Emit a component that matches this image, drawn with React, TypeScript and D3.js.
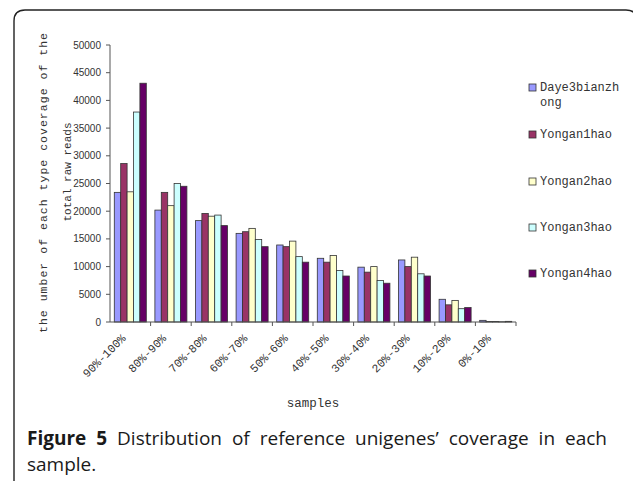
import React, { useLayoutEffect, useRef, useState } from "react";
import * as d3 from "d3";

// Coverage bins along the x axis
const categories = [
  "90%-100%", "80%-90%", "70%-80%", "60%-70%", "50%-60%",
  "40%-50%", "30%-40%", "20%-30%", "10%-20%", "0%-10%",
];

// Sample names (legend order)
const seriesNames = ["Daye3bianzhong", "Yongan1hao", "Yongan2hao", "Yongan3hao", "Yongan4hao"];

// Number of unigenes per coverage bin, one array per sample
const daye3bianzhong = [23400, 20200, 18300, 16000, 13900, 11500, 9900, 11200, 4100, 300];
const yongan1hao = [28600, 23400, 19600, 16300, 13600, 10800, 9000, 10000, 3100, 100];
const yongan2hao = [23500, 21000, 19100, 16900, 14600, 12000, 10000, 11700, 3900, 80];
const yongan3hao = [37900, 25000, 19300, 14900, 11800, 9300, 7500, 8700, 2400, 50];
const yongan4hao = [43100, 24500, 17400, 13600, 10800, 8300, 7000, 8300, 2600, 120];

const seriesValues = [daye3bianzhong, yongan1hao, yongan2hao, yongan3hao, yongan4hao];
const seriesColors = ["#9999ff", "#993366", "#ffffcc", "#ccffff", "#660066"];

const yTicks = [0, 5000, 10000, 15000, 20000, 25000, 30000, 35000, 40000, 45000, 50000];

const MONO = "'Liberation Mono', 'DejaVu Sans Mono', monospace";
const CAPTION_FONT = "'Open Sans', 'Noto Sans', sans-serif";

export default function App() {
  const plotLeft = 110;
  const plotRight = 516;
  const plotTop = 45;
  const plotBottom = 322;

  const x0 = d3.scaleBand<string>().domain(categories).range([plotLeft, plotRight]).paddingInner(0).paddingOuter(0);
  const x1 = d3
    .scaleBand<string>()
    .domain(seriesNames)
    .range([0, x0.bandwidth()])
    .paddingInner(0)
    .paddingOuter(0.67);
  const y = d3.scaleLinear().domain([0, 50000]).range([plotBottom, plotTop]);

  const legendY = [91, 138, 185, 231, 277];

  // justify the first caption line by adjusting the word gaps
  const captionLeft = 27;
  const captionRight = 607;
  const captionRef = useRef<SVGTextElement>(null);
  const [wordSpacing, setWordSpacing] = useState(0);
  useLayoutEffect(() => {
    const el = captionRef.current;
    if (!el) return;
    const len = el.getComputedTextLength();
    const gaps = 8;
    const extra = (captionRight - captionLeft - len) / gaps;
    if (Math.abs(extra) > 0.05) setWordSpacing((w) => w + extra);
  }, [wordSpacing]);

  return (
    <svg
      width={633}
      height={481}
      style={{ position: "absolute", left: 0, top: 0, background: "#fff" }}
    >
      {/* rounded frame around the figure */}
      <path
        d="M14,481 L14,21 Q14,10 25,10 L626,10 Q637,10 637,21 L637,481"
        fill="none"
        stroke="#222"
        strokeWidth={1.4}
      />

      {/* bars */}
      {categories.map((c, ci) => (
        <g key={c} transform={`translate(${x0(c)},0)`}>
          {seriesNames.map((s, si) => {
            const v = seriesValues[si][ci];
            return (
              <rect
                key={s}
                x={x1(s)}
                y={y(v)}
                width={x1.bandwidth()}
                height={plotBottom - y(v)}
                fill={seriesColors[si]}
                stroke="#333"
                strokeWidth={0.8}
              />
            );
          })}
        </g>
      ))}

      {/* y axis */}
      <line x1={plotLeft} x2={plotLeft} y1={plotTop} y2={plotBottom} stroke="#555" strokeWidth={1} />
      {yTicks.map((t) => (
        <g key={t}>
          <line x1={plotLeft - 4} x2={plotLeft} y1={y(t)} y2={y(t)} stroke="#555" />
          <text
            x={101}
            y={y(t)}
            dy="0.35em"
            textAnchor="end"
            fontFamily="'Liberation Sans', Arial, sans-serif"
            fontSize={10}
            fill="#333"
          >
            {t}
          </text>
        </g>
      ))}

      {/* x axis */}
      <line x1={plotLeft} x2={plotRight} y1={plotBottom} y2={plotBottom} stroke="#555" strokeWidth={1} />
      {categories.map((c) => (
        <line
          key={"t" + c}
          x1={(x0(c) as number) + x0.bandwidth()}
          x2={(x0(c) as number) + x0.bandwidth()}
          y1={plotBottom}
          y2={plotBottom + 4}
          stroke="#555"
        />
      ))}
      {categories.map((c) => {
        const cx = (x0(c) as number) + x0.bandwidth() / 2 - 4;
        const cy = 339;
        return (
          <text
            key={"l" + c}
            transform={`translate(${cx},${cy}) rotate(-45)`}
            textAnchor="end"
            fontFamily={MONO}
            fontSize={11.5}
            fill="#333"
          >
            {c}
          </text>
        );
      })}

      {/* axis titles */}
      <text x={313} y={407} textAnchor="middle" fontFamily={MONO} fontSize={12.5} fill="#333">
        samples
      </text>
      <text
        transform="translate(47,183) rotate(-90)"
        textAnchor="middle"
        fontFamily={MONO}
        fontSize={11.5}
        fill="#333"
        textLength={300}
        lengthAdjust="spacing"
      >
        the umber of each type coverage of the
      </text>
      <text
        transform="translate(71,172) rotate(-90)"
        textAnchor="middle"
        fontFamily={MONO}
        fontSize={11}
        fill="#333"
      >
        total raw reads
      </text>

      {/* legend */}
      {seriesNames.map((s, i) => (
        <g key={"lg" + s}>
          <rect
            x={529}
            y={legendY[i] - 7}
            width={7}
            height={7}
            fill={seriesColors[i]}
            stroke="#333"
            strokeWidth={0.8}
          />
          <text x={540} y={legendY[i]} fontFamily={MONO} fontSize={12} fill="#333">
            {i === 0 ? (
              <>
                <tspan>{s.slice(0, 11)}</tspan>
                <tspan x={540} dy={15}>
                  {s.slice(11)}
                </tspan>
              </>
            ) : (
              s
            )}
          </text>
        </g>
      ))}

      {/* caption */}
      <text
        ref={captionRef}
        x={captionLeft}
        y={445}
        fontFamily={CAPTION_FONT}
        fontSize={19}
        fill="#1a1a1a"
        style={{ wordSpacing: `${wordSpacing}px` }}
      >
        <tspan fontWeight="bold">Figure 5</tspan> Distribution of reference unigenes’ coverage in each
      </text>
      <text x={captionLeft} y={471} fontFamily={CAPTION_FONT} fontSize={19} fill="#1a1a1a">
        sample.
      </text>
    </svg>
  );
}
